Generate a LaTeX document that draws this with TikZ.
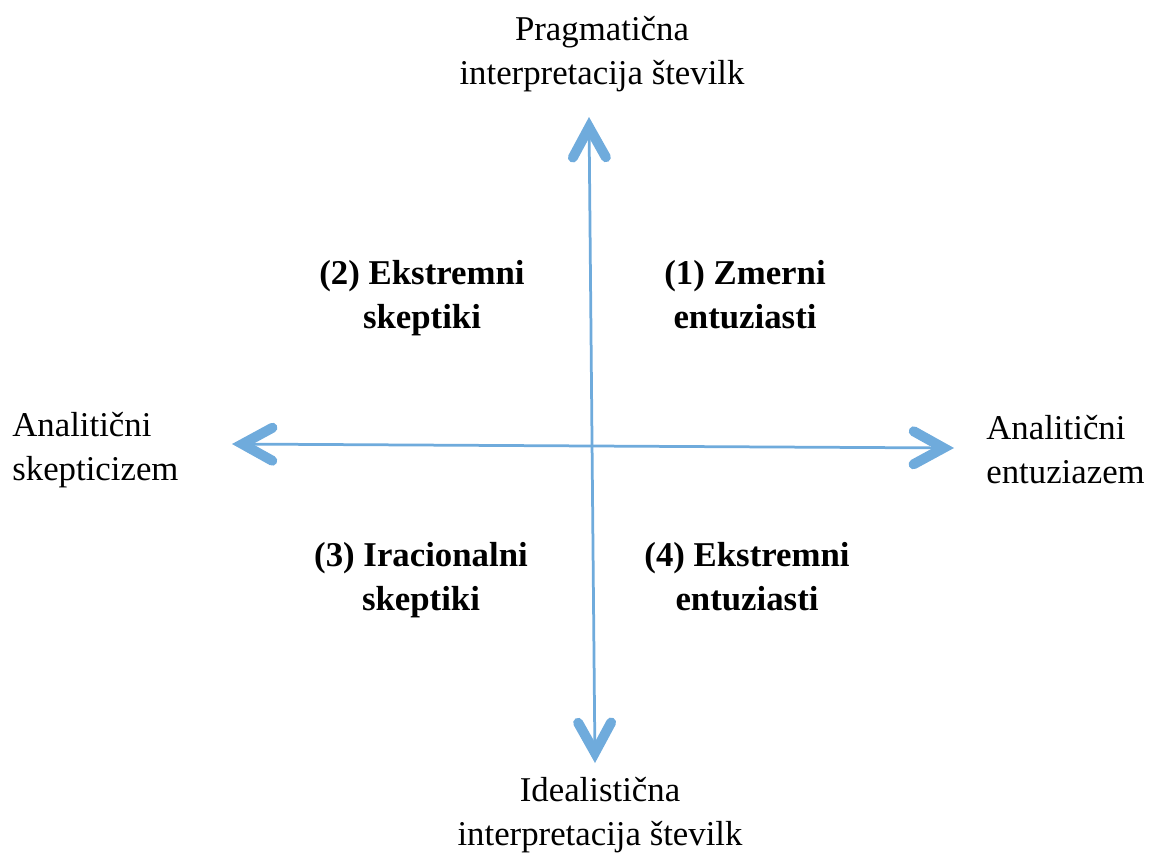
\documentclass[tikz,border=0pt]{standalone}
\usepackage{fontspec}
\setmainfont{Liberation Serif}
\usetikzlibrary{arrows.meta}
\definecolor{axisblue}{RGB}{111,171,220}
\tikzset{
  barb/.tip={Straight Barb[length=0.6cm, width=0.66cm, line width=0.2cm, line cap=round, line join=miter]},
  axis/.style={draw=axisblue, line width=0.055cm, barb-barb},
  lbl/.style={inner sep=0pt, font=\fontsize{19.8pt}{25pt}\selectfont},
  quad/.style={lbl, align=center, font=\fontsize{19.8pt}{25pt}\selectfont\bfseries},
}
\begin{document}
\begin{tikzpicture}[x=0.02cm, y=-0.02cm]
\useasboundingbox (0,0) rectangle (1150,856);
\coordinate (top) at (589,117);
\coordinate (bot) at (595,763);
\coordinate (lft) at (232,444);
\coordinate (rgt) at (954,448);
\draw[axis] (lft) -- (rgt);
\draw[axis] (top) -- (bot);
\node[lbl, align=center] (ptop) at (602,54) {Pragmatična\\interpretacija številk};
\node[lbl, align=center] (pbot) at (600,815) {Idealistična\\interpretacija številk};
\node[lbl, align=left, anchor=west] (pl) at (12,450) {Analitični\\skepticizem};
\node[lbl, align=left, anchor=west] (pr) at (986,450) {Analitični\\entuziazem};
\node[quad] (q1) at (745,295) {(1) Zmerni\\entuziasti};
\node[quad] (q2) at (422,298) {(2) Ekstremni\\skeptiki};
\node[quad] (q3) at (421,580) {(3) Iracionalni\\skeptiki};
\node[quad] (q4) at (747,577) {(4) Ekstremni\\entuziasti};
\end{tikzpicture}
\end{document}
